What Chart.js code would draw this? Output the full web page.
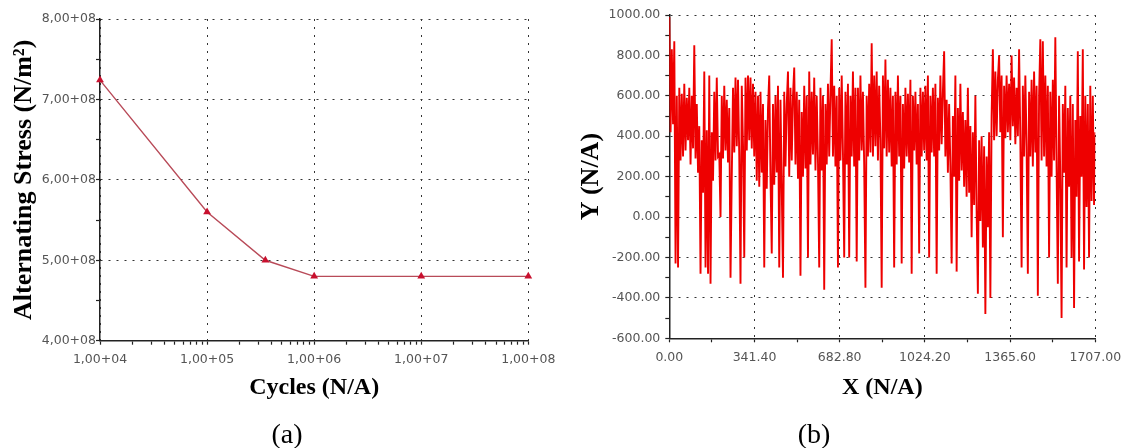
<!DOCTYPE html>
<html>
<head>
<meta charset="utf-8">
<script src="https://cdn.jsdelivr.net/npm/chart.js@4.4.1/dist/chart.umd.min.js"></script>
<style>
  html, body { margin: 0; padding: 0; background: #fff; }
  #page { position: relative; width: 1131px; height: 448px; overflow: hidden; }
  .panel { position: absolute; top: 0; height: 448px; }
  #panel-a { left: 0; width: 566px; }
  #panel-b { left: 560px; width: 571px; }
  .caption {
    position: absolute;
    font-family: "Liberation Serif", "Times New Roman", serif;
    font-size: 28px;
    line-height: 1;
    transform: translate(-50%, -50%);
  }
</style>
</head>
<body>
<div id="page">
  <div class="panel" id="panel-a"><canvas id="snChart"></canvas></div>
  <div class="panel" id="panel-b"><canvas id="signalChart"></canvas></div>
  <div class="caption" style="left:287px; top:434px;">(a)</div>
  <div class="caption" style="left:814px; top:434px;">(b)</div>
</div>
<script>
// (a) S-N curve
const cycles = [1e4, 1e5, 3.5e5, 1e6, 1e7, 1e8];
const stress = [7.24e8, 5.6e8, 5.0e8, 4.8e8, 4.8e8, 4.8e8];
const cycleDecades = [1e4, 1e5, 1e6, 1e7, 1e8];
const cycleTickLabels = ["1,00+04", "1,00+05", "1,00+06", "1,00+07", "1,00+08"];
const stressTicks = [4e8, 4.5e8, 5e8, 5.5e8, 6e8, 6.5e8, 7e8, 7.5e8, 8e8];
const stressTickLabels = ["4,00+08", "", "5,00+08", "", "6,00+08", "", "7,00+08", "", "8,00+08"];

// (b) load signal, evenly sampled from 0 to 1707
const signalXMax = 1707;
const signalY = [
  990, 420, 830, 460, 870, -230, 600, -250, 640, 280,
  610, 300, 660, 330, 590, 380, 640, 260, 600, 340,
  850, 290, 560, 220, 450, -280, 380, 120, 720, -250,
  430, -280, 700, -330, 420, 180, 620, 280, 690, 300,
  310, 0, 600, 290, 650, 330, 580, 270, 540, -300,
  200, 640, 320, 690, 350, 680, 300, -330, 650, 360,
  -200, 690, 330, 700, 380, 690, 340, 660, 300, 620,
  180, 600, 150, 620, 220, 560, -250, 480, 140, 540,
  700, 200, -180, 560, 160, 600, 220, 650, -250, 580,
  150, -300, 620, 250, 560, 720, 200, 640, 280, 600,
  740, 260, 620, 190, 580, -290, 520, 200, 650, 240,
  600, -200, 720, 260, 620, 310, 690, 230, 600, 280,
  -250, 640, 230, 600, -360, 560, 260, 660, 300, 620,
  880, 300, 650, 250, 600, -250, 640, 280, 700, 320,
  -200, 620, 260, 660, -200, 600, 300, 720, 250, 640,
  -220, 640, 280, 700, 330, 620, 260, -350, 600, 300,
  660, 320, 860, 300, 700, 350, 720, 280, 650, 380,
  -350, 700, 340, 780, 300, 680, 320, 640, 250, 600,
  -250, 620, 260, 700, 300, 600, -230, 560, 240, 640,
  300, 610, 270, 680, -280, 600, 330, 620, 260, 560,
  -180, 640, 300, 620, 330, 650, 280, 700, -200, 600,
  320, 640, 300, 660, -280, 590, 330, 700, 360, 620,
  820, 300, 580, 220, 560, 250, -230, 500, 200, 700,
  -270, 540, 180, 660, 230, 520, 150, 480, 100, 640,
  120, 450, -100, 420, 60, 600, 30, -380, 380, -20,
  400, -150, 350, -480, 300, -50, 420, -400, 500, 830,
  380, 720, 400, 680, 800, 420, 700, -100, 650, 390,
  700, 420, 660, 380, 800, 450, 690, 360, 640, 400,
  830, 380, -250, 650, 300, 700, 350, -280, 620, 300,
  680, 250, 720, 320, 650, -390, 600, 880, 280, 870,
  300, 700, 250, 650, -200, 620, 200, 680, 280, 890,
  250, -330, 600, 180, -500, 560, 220, 650, -250, 540,
  150, 600, -200, 560, -450, 480, 100, 820, -220, 500,
  200, 830, -260, 600, 50, 560, -200, 650, 80, 600,
  60, 420
];
const signalXTicks = [0, 170.7, 341.4, 512.1, 682.8, 853.5, 1024.2, 1194.9, 1365.6, 1536.3, 1707];
const signalXTickLabels = ["0.00", "", "341.40", "", "682.80", "", "1024.20", "", "1365.60", "", "1707.00"];
const signalYTicks = [-600, -500, -400, -300, -200, -100, 0, 100, 200, 300, 400, 500, 600, 700, 800, 900, 1000];
const signalYTickLabels = ["-600.00", "", "-400.00", "", "-200.00", "", "0.00", "", "200.00", "",
  "400.00", "", "600.00", "", "800.00", "", "1000.00"];

const tickFont = { family: '"DejaVu Sans", sans-serif', size: 12.5 };
const tickColor = "#555";
const titleFont = size => ({ family: '"Liberation Serif", "Times New Roman", serif', size, weight: "bold", lineHeight: 1 });

// dotted grid only where a label sits, solid tick marks everywhere
function axisStyle(labels, tickPad) {
  return {
    grid: {
      color: c => (c.tick && labels[c.index]) ? "#333" : "rgba(0,0,0,0)",
      lineWidth: 1,
      drawTicks: true,
      tickLength: 4,
      tickColor: "#222",
      tickWidth: 1.2,
      tickBorderDash: [],
    },
    border: { display: true, color: "#222", width: 1.5, dash: [2, 6] },
    ticks: {
      autoSkip: false,
      maxRotation: 0,
      padding: tickPad,
      color: tickColor,
      font: tickFont,
      callback: (v, i) => labels[i],
    },
  };
}

// log axis ticks: decades plus 2..9 in between
const cycleTicks = [];
const cycleLabels = [];
cycleDecades.forEach((d, i) => {
  cycleTicks.push(d);
  cycleLabels.push(cycleTickLabels[i]);
  if (i < cycleDecades.length - 1) {
    for (let m = 2; m <= 9; m++) { cycleTicks.push(d * m); cycleLabels.push(""); }
  }
});

new Chart(document.getElementById("snChart"), {
  type: "line",
  data: {
    datasets: [{
      data: cycles.map((c, i) => ({ x: c, y: stress[i] })),
      borderColor: "#b84a58",
      borderWidth: 1.4,
      pointStyle: "triangle",
      pointRadius: 4.5,
      pointBackgroundColor: "#c8102e",
      pointBorderColor: "#c8102e",
      pointBorderWidth: 0,
      clip: false,
    }],
  },
  options: {
    responsive: true,
    maintainAspectRatio: false,
    animation: false,
    layout: { padding: { left: 0, top: 19, right: 37.7, bottom: 0 } },
    plugins: { legend: { display: false }, tooltip: { enabled: false } },
    scales: {
      x: {
        type: "logarithmic",
        min: 1e4,
        max: 1e8,
        afterBuildTicks: s => { s.ticks = cycleTicks.map(v => ({ value: v })); },
        afterFit: s => { s.height = 107.3; },
        ...axisStyle(cycleLabels, 8),
        title: { display: true, text: "Cycles (N/A)", color: "#000", font: titleFont(24), padding: { top: 0, bottom: 48 } },
      },
      y: {
        type: "linear",
        min: 4e8,
        max: 8e8,
        afterBuildTicks: s => { s.ticks = stressTicks.map(v => ({ value: v })); },
        afterFit: s => { s.width = 100; },
        ...axisStyle(stressTickLabels, 0),
        title: { display: true, text: "Alternating Stress (N/m²)", color: "#000", font: titleFont(26), padding: { top: 11, bottom: 0 } },
      },
    },
  },
});

const signalStep = signalXMax / (signalY.length - 1);

new Chart(document.getElementById("signalChart"), {
  type: "line",
  data: {
    datasets: [{
      data: signalY.map((y, i) => ({ x: i * signalStep, y })),
      borderColor: "#ee0000",
      borderWidth: 1.9,
      pointRadius: 0,
      tension: 0,
    }],
  },
  options: {
    responsive: true,
    maintainAspectRatio: false,
    animation: false,
    layout: { padding: { left: 0, top: 15, right: 35.7, bottom: 0 } },
    plugins: { legend: { display: false }, tooltip: { enabled: false } },
    scales: {
      x: {
        type: "linear",
        min: 0,
        max: signalXMax,
        afterBuildTicks: s => { s.ticks = signalXTicks.map(v => ({ value: v })); },
        afterFit: s => { s.height = 448 - 338.3; },
        ...axisStyle(signalXTickLabels, 8),
        title: { display: true, text: "X (N/A)", color: "#000", font: titleFont(24), padding: { top: 0, bottom: 48 } },
      },
      y: {
        type: "linear",
        min: -600,
        max: 1000,
        afterBuildTicks: s => { s.ticks = signalYTicks.map(v => ({ value: v })); },
        afterFit: s => { s.width = 109.3; },
        ...axisStyle(signalYTickLabels, 5),
        title: { display: true, text: "Y (N/A)", color: "#000", font: titleFont(26), padding: { top: 18, bottom: 0 } },
      },
    },
  },
});
</script>
</body>
</html>
